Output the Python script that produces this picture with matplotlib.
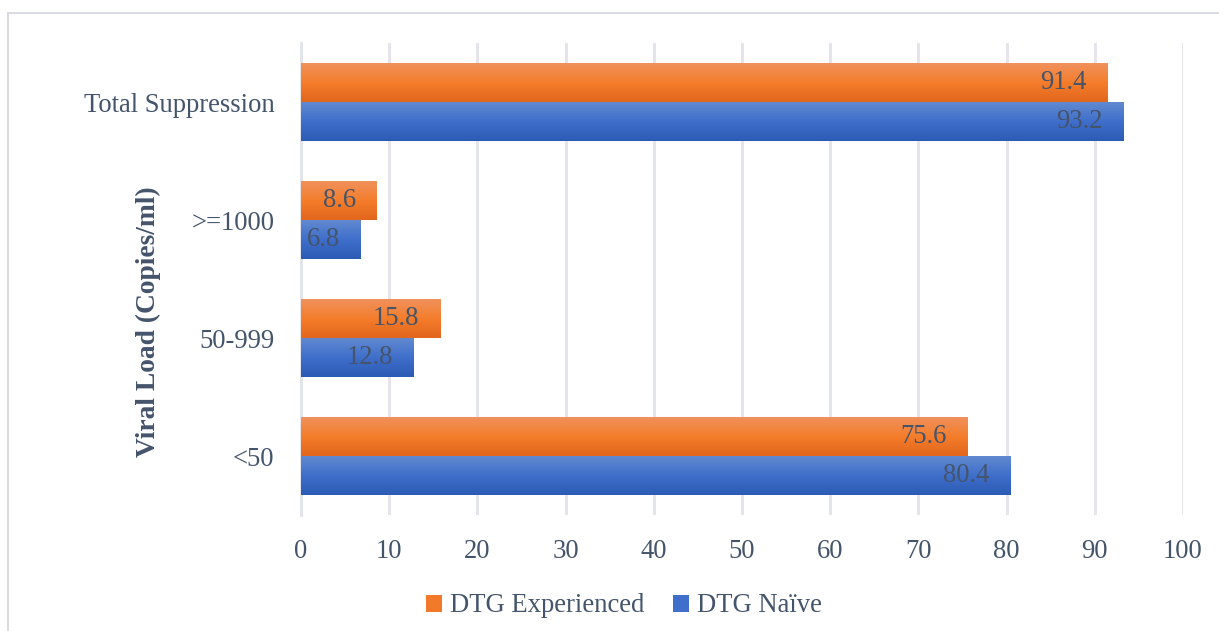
import numpy as np
import matplotlib
matplotlib.use("Agg")
import matplotlib.pyplot as plt
from matplotlib.colors import LinearSegmentedColormap
from matplotlib.lines import Line2D
from matplotlib.patches import Patch

categories = ["<50", "50-999", ">=1000", "Total Suppression"]
naive = [80.4, 12.8, 6.8, 93.2]
experienced = [75.6, 15.8, 8.6, 91.4]
xticks = [0, 10, 20, 30, 40, 50, 60, 70, 80, 90, 100]

TXT = '#44546A'
GRID = '#E1E4EA'
ORANGE = LinearSegmentedColormap.from_list('o', ['#E2661C', '#F47D2B', '#F0915C'])
BLUE = LinearSegmentedColormap.from_list('b', ['#2C5BB6', '#3F6FCB', '#6189D0'])
FS = 19.2
H = 0.33

plt.rcParams['font.family'] = ['Liberation Serif', 'DejaVu Serif']

fig = plt.figure(figsize=(12.19, 6.31), dpi=100)
ax = fig.add_axes([301 / 1219, 1 - 515 / 631, (1183 - 301) / 1219, (515 - 43) / 631])

y = np.arange(len(categories))
grad = np.linspace(0, 1, 64).reshape(-1, 1)


def gradient_bars(ys, vals, cmap):
    bars = ax.barh(ys, vals, height=H, align='edge', color='none', edgecolor='none', zorder=2)
    for b in bars:
        x0, y0, w, h = b.get_x(), b.get_y(), b.get_width(), b.get_height()
        im = ax.imshow(grad, extent=[x0, x0 + w, y0, y0 + h], origin='lower',
                       aspect='auto', cmap=cmap, zorder=2, interpolation='bilinear')
        im.set_clip_path(b)
    return bars


b_exp = gradient_bars(y, experienced, ORANGE)
b_nai = gradient_bars(y - H, naive, BLUE)

for bars, vals in [(b_exp, experienced), (b_nai, naive)]:
    for b, v in zip(bars, vals):
        ax.annotate(f"{v}", (v, b.get_y() + b.get_height() / 2), xytext=(-15, 0),
                    textcoords='offset points', ha='right', va='center',
                    fontsize=FS, color=TXT, zorder=3)

ax.set_xlim(0, 100)
ax.set_ylim(-0.5, len(categories) - 0.5)
ax.set_xticks(xticks)
ax.set_yticks(y)
ax.set_yticklabels(categories)
ax.tick_params(axis='both', length=0, labelsize=FS, labelcolor=TXT)
ax.tick_params(axis='y', pad=19)
ax.tick_params(axis='x', pad=17)
ax.grid(axis='x', color=GRID, linewidth=2, zorder=0)
ax.set_axisbelow(True)
for s in ['top', 'right', 'bottom']:
    ax.spines[s].set_visible(False)
ax.spines['left'].set_color(GRID)
ax.spines['left'].set_linewidth(2)
ax.spines['left'].set_zorder(1)

fig.text(148 / 1219, 1 - 322 / 631, "Viral Load (Copies/ml)", rotation=90,
         ha='center', va='center', fontsize=19.8, fontweight='bold', color=TXT)

handles = [Patch(facecolor='#F07A2A', edgecolor='none', label='DTG Experienced'),
           Patch(facecolor='#3F6FCB', edgecolor='none', label='DTG Naïve')]
fig.legend(handles=handles, loc='center', bbox_to_anchor=(624 / 1219, 1 - 606 / 631),
           ncol=2, frameon=False, fontsize=FS, labelcolor=TXT, handlelength=0.6,
           handleheight=0.6, handletextpad=0.3, columnspacing=1.05)

# light chart-area border (top and left edges visible)
fig.add_artist(Line2D([8 / 1219, 1.0], [1 - 13 / 631] * 2, color='#D9DDE3', lw=1.5))
fig.add_artist(Line2D([8 / 1219] * 2, [0.0, 1 - 13 / 631], color='#D9DDE3', lw=1.5))

fig.savefig("out.png", dpi=100)
